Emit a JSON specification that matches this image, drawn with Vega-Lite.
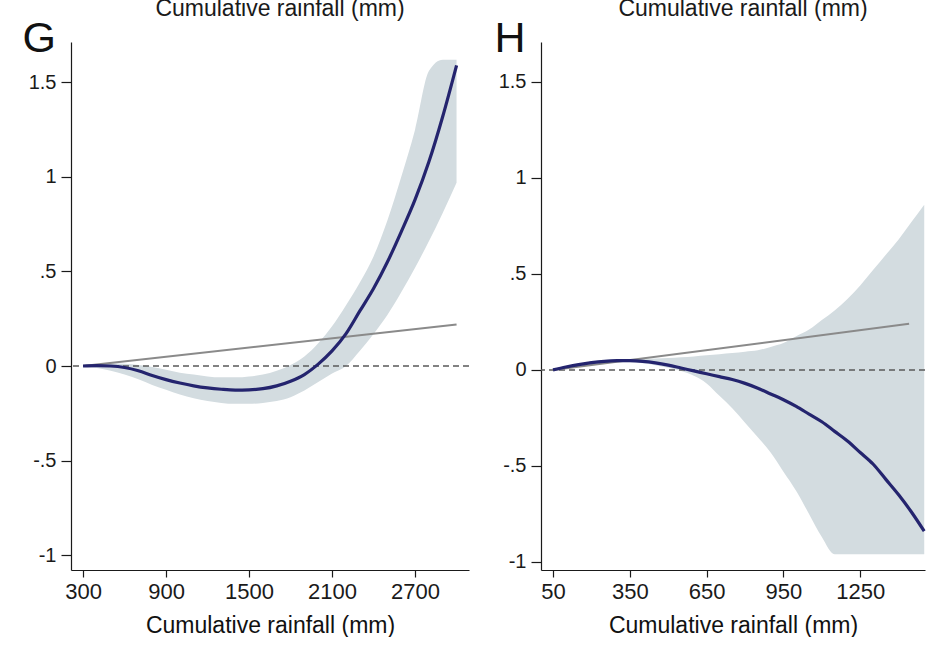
{
  "$schema": "https://vega.github.io/schema/vega-lite/v6.json",
  "background": "white",
  "padding": {"left": 22, "top": -2, "right": 0, "bottom": 0},
  "spacing": 24,
  "config": {
    "font": "Liberation Sans",
    "view": {"stroke": null},
    "axis": {
      "grid": false,
      "domainColor": "#1a1a1a",
      "tickColor": "#1a1a1a",
      "labelColor": "#1a1a1a",
      "titleColor": "#111111",
      "titleFontWeight": "normal",
      "labelFont": "Liberation Sans",
      "titleFont": "Liberation Sans",
      "domainWidth": 1.2,
      "tickWidth": 1.2
    },
    "title": {"font": "Liberation Sans", "fontWeight": "normal", "color": "#1a1a1a"}
  },
  "datasets": {
    "g": [
      {"x": 300, "est": 0, "lo": 0, "hi": 0},
      {"x": 400, "est": 0.002, "lo": -0.01, "hi": 0.01},
      {"x": 500, "est": 0.0, "lo": -0.025, "hi": 0.015},
      {"x": 600, "est": -0.008, "lo": -0.045, "hi": 0.012},
      {"x": 700, "est": -0.025, "lo": -0.07, "hi": 0.005},
      {"x": 800, "est": -0.05, "lo": -0.1, "hi": -0.005},
      {"x": 900, "est": -0.072, "lo": -0.125, "hi": -0.02},
      {"x": 1000, "est": -0.09, "lo": -0.15, "hi": -0.035},
      {"x": 1100, "est": -0.105, "lo": -0.17, "hi": -0.045},
      {"x": 1200, "est": -0.116, "lo": -0.185, "hi": -0.055},
      {"x": 1300, "est": -0.123, "lo": -0.195, "hi": -0.06},
      {"x": 1400, "est": -0.127, "lo": -0.2, "hi": -0.06},
      {"x": 1500, "est": -0.126, "lo": -0.2, "hi": -0.055},
      {"x": 1600, "est": -0.12, "lo": -0.195, "hi": -0.045},
      {"x": 1700, "est": -0.105, "lo": -0.185, "hi": -0.025},
      {"x": 1800, "est": -0.08, "lo": -0.165, "hi": 0.005},
      {"x": 1900, "est": -0.045, "lo": -0.13, "hi": 0.05},
      {"x": 2000, "est": 0.01, "lo": -0.085, "hi": 0.12},
      {"x": 2100, "est": 0.08, "lo": -0.04, "hi": 0.21},
      {"x": 2200, "est": 0.17, "lo": 0.0, "hi": 0.32},
      {"x": 2300, "est": 0.29, "lo": 0.08, "hi": 0.44},
      {"x": 2400, "est": 0.41, "lo": 0.17, "hi": 0.58},
      {"x": 2500, "est": 0.55, "lo": 0.27, "hi": 0.77},
      {"x": 2600, "est": 0.71, "lo": 0.39, "hi": 1.0},
      {"x": 2700, "est": 0.88, "lo": 0.52, "hi": 1.25},
      {"x": 2800, "est": 1.08, "lo": 0.66, "hi": 1.56},
      {"x": 2900, "est": 1.32, "lo": 0.81, "hi": 1.62},
      {"x": 3000, "est": 1.59, "lo": 0.97, "hi": 1.62}
    ],
    "gl": [
      {"x": 300, "v": 0},
      {"x": 3000, "v": 0.22}
    ],
    "h": [
      {"x": 50, "est": 0, "lo": 0, "hi": 0},
      {"x": 100, "est": 0.015, "lo": 0.012, "hi": 0.018},
      {"x": 150, "est": 0.028, "lo": 0.022, "hi": 0.032},
      {"x": 200, "est": 0.038, "lo": 0.03, "hi": 0.044},
      {"x": 250, "est": 0.045, "lo": 0.036, "hi": 0.052},
      {"x": 300, "est": 0.048, "lo": 0.04, "hi": 0.056},
      {"x": 350, "est": 0.048, "lo": 0.04, "hi": 0.057},
      {"x": 400, "est": 0.045, "lo": 0.035, "hi": 0.058},
      {"x": 450, "est": 0.037, "lo": 0.025, "hi": 0.06},
      {"x": 500, "est": 0.025, "lo": 0.012, "hi": 0.062},
      {"x": 550, "est": 0.01, "lo": -0.005, "hi": 0.066},
      {"x": 600, "est": -0.005, "lo": -0.03, "hi": 0.07},
      {"x": 650, "est": -0.02, "lo": -0.07, "hi": 0.076},
      {"x": 700, "est": -0.035, "lo": -0.135, "hi": 0.082},
      {"x": 750, "est": -0.05, "lo": -0.2, "hi": 0.088},
      {"x": 800, "est": -0.07, "lo": -0.275, "hi": 0.095},
      {"x": 850, "est": -0.095, "lo": -0.35, "hi": 0.102},
      {"x": 900, "est": -0.125, "lo": -0.43, "hi": 0.12},
      {"x": 950, "est": -0.155, "lo": -0.53, "hi": 0.14},
      {"x": 1000, "est": -0.19, "lo": -0.63, "hi": 0.175},
      {"x": 1050, "est": -0.23, "lo": -0.75, "hi": 0.21},
      {"x": 1100, "est": -0.27, "lo": -0.87, "hi": 0.26},
      {"x": 1150, "est": -0.32, "lo": -0.96, "hi": 0.31},
      {"x": 1200, "est": -0.37, "lo": -0.96, "hi": 0.37},
      {"x": 1250, "est": -0.43, "lo": -0.96, "hi": 0.44},
      {"x": 1300, "est": -0.49, "lo": -0.96, "hi": 0.52},
      {"x": 1350, "est": -0.57, "lo": -0.96, "hi": 0.6},
      {"x": 1400, "est": -0.65, "lo": -0.96, "hi": 0.68},
      {"x": 1450, "est": -0.74, "lo": -0.96, "hi": 0.77},
      {"x": 1500, "est": -0.84, "lo": -0.96, "hi": 0.86}
    ],
    "hl": [
      {"x": 50, "v": 0},
      {"x": 1441, "v": 0.24}
    ]
  },
  "hconcat": [
    {
      "width": 398,
      "height": 528,
      "title": {"text": "Cumulative rainfall (mm)", "anchor": "middle", "fontSize": 23, "baseline": "alphabetic", "offset": -22, "dx": 10},
      "layer": [
        {
          "data": {"name": "g"},
          "mark": {"type": "area", "color": "#d3dce0", "opacity": 1, "interpolate": "monotone"},
          "encoding": {
            "x": {"field": "x", "type": "quantitative",
              "scale": {"domain": [213, 3090], "nice": false, "zero": false},
              "axis": {"values": [300, 900, 1500, 2100, 2700], "format": "d", "title": "Cumulative rainfall (mm)",
                "labelFontSize": 22, "titleFontSize": 23, "tickSize": 7, "labelPadding": 4, "titlePadding": 12, "labelFlush": false, "labelOverlap": false}},
            "y": {"field": "lo", "type": "quantitative",
              "scale": {"domain": [-1.079, 1.714], "nice": false, "zero": false},
              "axis": {"values": [-1, -0.5, 0, 0.5, 1, 1.5], "labelFontSize": 20, "tickSize": 10, "labelPadding": 5,
                "labelExpr": "datum.value == 0.5 ? '.5' : datum.value == -0.5 ? '-.5' : datum.value == -1 ? '-1' : datum.value == 1.5 ? '1.5' : datum.value == 1 ? '1' : '0'",
                "title": "G", "titleFontSize": 43, "titleAngle": 0, "titleAlign": "left", "titleBaseline": "alphabetic", "titleX": -49, "titleY": 9}},
            "y2": {"field": "hi"}
          }
        },
        {
          "data": {"values": [{}]},
          "mark": {"type": "rule", "color": "#5a5a5a", "strokeWidth": 1.4, "strokeDash": [6, 4]},
          "encoding": {"y": {"datum": 0, "type": "quantitative"}}
        },
        {
          "data": {"name": "gl"},
          "mark": {"type": "line", "color": "#8a8a8a", "strokeWidth": 2},
          "encoding": {
            "x": {"field": "x", "type": "quantitative"},
            "y": {"field": "v", "type": "quantitative"}
          }
        },
        {
          "data": {"name": "g"},
          "mark": {"type": "line", "color": "#24246e", "strokeWidth": 3.2, "interpolate": "monotone"},
          "encoding": {
            "x": {"field": "x", "type": "quantitative"},
            "y": {"field": "est", "type": "quantitative"}
          }
        }
      ]
    },
    {
      "width": 384,
      "height": 528,
      "title": {"text": "Cumulative rainfall (mm)", "anchor": "middle", "fontSize": 23, "baseline": "alphabetic", "offset": -22, "dx": 10},
      "layer": [
        {
          "data": {"name": "h"},
          "mark": {"type": "area", "color": "#d3dce0", "opacity": 1, "interpolate": "monotone"},
          "encoding": {
            "x": {"field": "x", "type": "quantitative",
              "scale": {"domain": [3, 1503], "nice": false, "zero": false},
              "axis": {"values": [50, 350, 650, 950, 1250], "format": "d", "title": "Cumulative rainfall (mm)",
                "labelFontSize": 22, "titleFontSize": 23, "tickSize": 7, "labelPadding": 4, "titlePadding": 12, "labelFlush": false, "labelOverlap": false}},
            "y": {"field": "lo", "type": "quantitative",
              "scale": {"domain": [-1.042, 1.708], "nice": false, "zero": false},
              "axis": {"values": [-1, -0.5, 0, 0.5, 1, 1.5], "labelFontSize": 20, "tickSize": 10, "labelPadding": 5,
                "labelExpr": "datum.value == 0.5 ? '.5' : datum.value == -0.5 ? '-.5' : datum.value == -1 ? '-1' : datum.value == 1.5 ? '1.5' : datum.value == 1 ? '1' : '0'",
                "title": "H", "titleFontSize": 43, "titleAngle": 0, "titleAlign": "left", "titleBaseline": "alphabetic", "titleX": -47, "titleY": 9}},
            "y2": {"field": "hi"}
          }
        },
        {
          "data": {"values": [{}]},
          "mark": {"type": "rule", "color": "#5a5a5a", "strokeWidth": 1.4, "strokeDash": [6, 4]},
          "encoding": {"y": {"datum": 0, "type": "quantitative"}}
        },
        {
          "data": {"name": "hl"},
          "mark": {"type": "line", "color": "#8a8a8a", "strokeWidth": 2},
          "encoding": {
            "x": {"field": "x", "type": "quantitative"},
            "y": {"field": "v", "type": "quantitative"}
          }
        },
        {
          "data": {"name": "h"},
          "mark": {"type": "line", "color": "#24246e", "strokeWidth": 3.2, "interpolate": "monotone"},
          "encoding": {
            "x": {"field": "x", "type": "quantitative"},
            "y": {"field": "est", "type": "quantitative"}
          }
        }
      ]
    }
  ]
}
